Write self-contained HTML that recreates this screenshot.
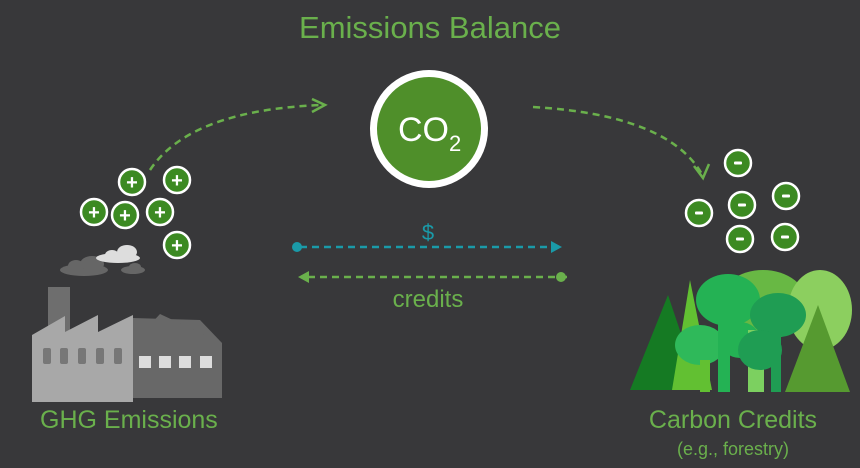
<!DOCTYPE html><html><head><style>body{margin:0;background:#38383a}svg{display:block}text{font-family:"Liberation Sans",sans-serif}</style></head><body>
<svg width="860" height="468" viewBox="0 0 860 468">
<rect width="860" height="468" fill="#38383a"/>
<text x="430" y="38" text-anchor="middle" font-size="31" fill="#6ab04c">Emissions Balance</text>
<circle cx="429" cy="129" r="59" fill="#fff"/><circle cx="429" cy="129" r="52" fill="#4f8f2a"/>
<text x="398" y="141" font-size="34" fill="#fff">CO<tspan font-size="22" dy="10">2</tspan></text>
<g fill="none" stroke="#6ab04c" stroke-width="2.5" stroke-dasharray="7,5">
<path d="M150 170 Q190 110 322 105"/><path d="M533 107 Q670 115 703 176"/>
<path d="M300 247 H553" stroke="#1a9aa8"/><path d="M567 277 H306"/>
</g>
<path d="M312 99 L325 105 L312 112" fill="none" stroke="#6ab04c" stroke-width="2.5"/>
<path d="M694 166 L703 178 L709 164" fill="none" stroke="#6ab04c" stroke-width="2.5"/>
<circle cx="297" cy="247" r="5" fill="#1a9aa8"/><path d="M551 241 L562 247 L551 253Z" fill="#1a9aa8"/>
<circle cx="561" cy="277" r="5" fill="#6ab04c"/><path d="M309 271 L298 277 L309 283Z" fill="#6ab04c"/>
<text x="428" y="240" text-anchor="middle" font-size="22" fill="#1a9aa8">$</text>
<text x="428" y="307" text-anchor="middle" font-size="24" fill="#6ab04c">credits</text>
<g stroke="#fff" stroke-width="2.5" fill="#3c8a22">
<circle cx="132" cy="182" r="13"/><circle cx="177" cy="180" r="13"/><circle cx="94" cy="212" r="13"/><circle cx="125" cy="215" r="13"/><circle cx="160" cy="212" r="13"/><circle cx="177" cy="245" r="13"/>
<circle cx="738" cy="163" r="13"/><circle cx="786" cy="196" r="13"/><circle cx="699" cy="213" r="13"/><circle cx="742" cy="205" r="13"/><circle cx="740" cy="239" r="13"/><circle cx="785" cy="237" r="13"/>
</g>
<g font-size="20" font-weight="bold" fill="#fff" text-anchor="middle">
<text x="132" y="189">+</text><text x="177" y="187">+</text><text x="94" y="219">+</text><text x="125" y="222">+</text><text x="160" y="219">+</text><text x="177" y="252">+</text>
</g>
<g fill="#fff"><rect x="734" y="161.5" width="8" height="3" rx="1"/><rect x="782" y="194.5" width="8" height="3" rx="1"/><rect x="695" y="211.5" width="8" height="3" rx="1"/><rect x="738" y="203.5" width="8" height="3" rx="1"/><rect x="736" y="237.5" width="8" height="3" rx="1"/><rect x="781" y="235.5" width="8" height="3" rx="1"/></g>
<g fill="#666"><ellipse cx="84" cy="270" rx="24" ry="6"/><ellipse cx="92" cy="264" rx="12" ry="8"/><ellipse cx="76" cy="266" rx="8" ry="6"/><ellipse cx="133" cy="270" rx="12" ry="4"/><ellipse cx="135" cy="267" rx="6" ry="4"/></g>
<g fill="#ddd"><ellipse cx="118" cy="258" rx="22" ry="5"/><ellipse cx="127" cy="252" rx="10" ry="7"/><ellipse cx="112" cy="255" rx="7" ry="5"/></g>
<rect x="48" y="287" width="22" height="45" fill="#6e6e6e"/>
<path d="M133 318 L200 320 L222 343 V398 H133Z" fill="#686868"/>
<path d="M160 314 L222 343 H133Z" fill="#686868"/>
<path d="M32 335 L65 316 V332 L98 315 V332 L133 315 V402 H32Z" fill="#a8a8a8"/>
<g fill="#777"><rect x="43" y="348" width="8" height="16" rx="2"/><rect x="60" y="348" width="8" height="16" rx="2"/><rect x="78" y="348" width="8" height="16" rx="2"/><rect x="96" y="348" width="8" height="16" rx="2"/><rect x="114" y="348" width="8" height="16" rx="2"/></g>
<g fill="#ddd"><rect x="139" y="356" width="12" height="12"/><rect x="159" y="356" width="12" height="12"/><rect x="179" y="356" width="12" height="12"/><rect x="200" y="356" width="12" height="12"/></g>
<text x="40" y="428" font-size="25" fill="#6ab04c">GHG Emissions</text>
<ellipse cx="763" cy="305" rx="45" ry="35" fill="#68b844"/>
<ellipse cx="820" cy="310" rx="32" ry="40" fill="#8ccf5f"/>
<path d="M630 390 L668 295 L700 390Z" fill="#157a23"/>
<path d="M672 390 L690 280 L712 390Z" fill="#62c032"/>
<ellipse cx="728" cy="300" rx="32" ry="26" fill="#24b254"/>
<ellipse cx="700" cy="345" rx="25" ry="20" fill="#2fb95a"/>
<rect x="718" y="310" width="12" height="82" fill="#24b254"/>
<ellipse cx="740" cy="340" rx="20" ry="18" fill="#24b254"/>
<rect x="748" y="330" width="16" height="62" fill="#7cd060"/>
<ellipse cx="778" cy="315" rx="28" ry="22" fill="#1f9d53"/>
<ellipse cx="760" cy="350" rx="22" ry="20" fill="#1f9d53"/>
<rect x="771" y="320" width="10" height="72" fill="#1f9d53"/>
<path d="M785 392 L818 305 L850 392Z" fill="#569a30"/>
<rect x="700" y="360" width="10" height="32" fill="#62c032"/>
<text x="733" y="428" text-anchor="middle" font-size="25" fill="#6ab04c">Carbon Credits</text>
<text x="733" y="455" text-anchor="middle" font-size="18" fill="#6ab04c">(e.g., forestry)</text>
</svg></body></html>
